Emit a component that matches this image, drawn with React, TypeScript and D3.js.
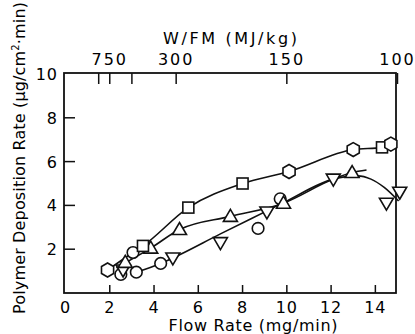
import React from "react";
import * as d3 from "d3";

// ---- data (flow rate mg/min, deposition rate µg/cm²·min) ----
const hexagons: [number, number][] = [[1.9, 1.05], [10.1, 5.55], [13.0, 6.55], [14.7, 6.8]];
const squares: [number, number][] = [[3.5, 2.15], [5.55, 3.9], [8.0, 5.0], [14.3, 6.65]];
const trianglesUp: [number, number][] = [[2.7, 1.4], [3.85, 2.05], [5.15, 2.9], [7.45, 3.5], [9.85, 4.1], [12.95, 5.5]];
const trianglesDown: [number, number][] = [[2.6, 1.05], [4.85, 1.6], [7.0, 2.3], [9.1, 3.7], [12.1, 5.2], [14.5, 4.1], [15.1, 4.6]];
const circles: [number, number][] = [[2.5, 0.85], [3.2, 0.95], [4.3, 1.35], [3.05, 1.85], [8.7, 2.95], [9.7, 4.3]];

// fitted curves
const curveUpper: [number, number][] = [[1.9, 1.05], [3.05, 1.85], [3.5, 2.15], [5.55, 3.9], [8.0, 5.0], [10.1, 5.55], [13.0, 6.55], [14.3, 6.65], [14.7, 6.8]];
const curveMiddle: [number, number][] = [[2.3, 1.15], [3.85, 2.05], [5.15, 2.9], [7.45, 3.5], [9.85, 4.1], [12.1, 5.2], [12.95, 5.5], [13.6, 5.62]];
const curveLower: [number, number][] = [[3.2, 0.95], [4.3, 1.35], [4.85, 1.6], [7.0, 2.7], [9.1, 3.75], [9.9, 4.15], [12.1, 5.2], [13.2, 5.35], [13.8, 5.2], [14.4, 4.82], [15.05, 4.2]];

const xTicks = [0, 2, 4, 6, 8, 10, 12, 14];
const yTicks = [2, 4, 6, 8, 10];
const wfmTicks = [1000, 750, 500, 300, 150, 100];
const wfmLabels = [750, 300, 150, 100];
const wfmTimesFlow = 1500; // W/FM * flow rate

const FONT = "DejaVu Sans, Liberation Sans, Arial, sans-serif";

export default function App() {
  const W = 415, H = 334;
  const left = 64, right = 396, top = 73, bottom = 293;
  const x = d3.scaleLinear().domain([0, 15]).range([65.5, 397.5]);
  const y = d3.scaleLinear().domain([0, 10]).range([bottom, 74]);

  const line = d3.line<[number, number]>().x(d => x(d[0])).y(d => y(d[1])).curve(d3.curveMonotoneX);

  const stroke = "#111";
  const sw = 1.6;

  const hexPath = (cx: number, cy: number, r: number) => {
    const pts = d3.range(6).map(i => {
      const a = Math.PI / 6 + (i * Math.PI) / 3;
      return [cx + r * Math.cos(a), cy + r * Math.sin(a)];
    });
    return "M" + pts.map(p => p.join(",")).join("L") + "Z";
  };
  const triUp = (cx: number, cy: number) => `M${cx},${cy - 7}L${cx + 7},${cy + 5}L${cx - 7},${cy + 5}Z`;
  const triDown = (cx: number, cy: number) => `M${cx},${cy + 7}L${cx + 7},${cy - 5}L${cx - 7},${cy - 5}Z`;

  return (
    <svg width={W} height={H} style={{ position: "absolute", left: 0, top: 0, background: "#fff" }} fontFamily={FONT}>
      <rect x={0} y={0} width={W} height={H} fill="#fff" />
      {/* frame */}
      <rect x={left} y={top} width={right - left} height={bottom - top} fill="none" stroke={stroke} strokeWidth={1.8} />
      {/* y ticks */}
      {yTicks.map(t => (
        <g key={"y" + t}>
          {t < 10 && <line x1={left} x2={left + 11} y1={y(t)} y2={y(t)} stroke={stroke} strokeWidth={1.5} />}
          <text x={58} y={y(t) + 6} textAnchor="end" fontSize={16} letterSpacing={1}>{t}</text>
        </g>
      ))}
      {/* x ticks */}
      {xTicks.map(t => (
        <g key={"x" + t}>
          {t > 0 && <line x1={x(t)} x2={x(t)} y1={bottom} y2={bottom - 8} stroke={stroke} strokeWidth={1.5} />}
          <text x={x(t)} y={313} textAnchor="middle" fontSize={16} letterSpacing={1}>{t}</text>
        </g>
      ))}
      {/* top W/FM ticks */}
      {wfmTicks.map(w => (
        <line key={"w" + w} x1={x(wfmTimesFlow / w)} x2={x(wfmTimesFlow / w)} y1={top} y2={top + 11} stroke={stroke} strokeWidth={1.5} />
      ))}
      {wfmLabels.map(w => (
        <text key={"wl" + w} x={x(wfmTimesFlow / w)} y={65} textAnchor="middle" fontSize={16} letterSpacing={2}>{w}</text>
      ))}
      <text x={230} y={44} textAnchor="middle" fontSize={16} textLength={134} lengthAdjust="spacing">W/FM (MJ/kg)</text>
      <text x={253} y={331} textAnchor="middle" fontSize={16} textLength={169} lengthAdjust="spacing">Flow Rate (mg/min)</text>
      <text transform="translate(25,158) rotate(-90)" textAnchor="middle" fontSize={16} textLength={312} lengthAdjust="spacing">
        Polymer Deposition Rate (μg/cm<tspan fontSize={10} dy={-6}>2</tspan><tspan dy={6}>·min)</tspan>
      </text>

      {/* curves */}
      <path d={line(curveUpper) || ""} fill="none" stroke={stroke} strokeWidth={sw} />
      <path d={line(curveMiddle) || ""} fill="none" stroke={stroke} strokeWidth={sw} />
      <path d={line(curveLower) || ""} fill="none" stroke={stroke} strokeWidth={sw} />

      {/* markers */}
      {circles.map((d, i) => (
        <circle key={"c" + i} cx={x(d[0])} cy={y(d[1])} r={5.8} fill="#fff" stroke={stroke} strokeWidth={sw} />
      ))}
      {trianglesDown.map((d, i) => (
        <path key={"td" + i} d={triDown(x(d[0]), y(d[1]))} fill="#fff" stroke={stroke} strokeWidth={sw} />
      ))}
      {trianglesUp.map((d, i) => (
        <path key={"tu" + i} d={triUp(x(d[0]), y(d[1]))} fill="#fff" stroke={stroke} strokeWidth={sw} />
      ))}
      {squares.map((d, i) => (
        <rect key={"s" + i} x={x(d[0]) - 5.5} y={y(d[1]) - 5.5} width={11} height={11} fill="#fff" stroke={stroke} strokeWidth={sw} />
      ))}
      {hexagons.map((d, i) => (
        <path key={"h" + i} d={hexPath(x(d[0]), y(d[1]), 7)} fill="#fff" stroke={stroke} strokeWidth={sw} />
      ))}
    </svg>
  );
}
